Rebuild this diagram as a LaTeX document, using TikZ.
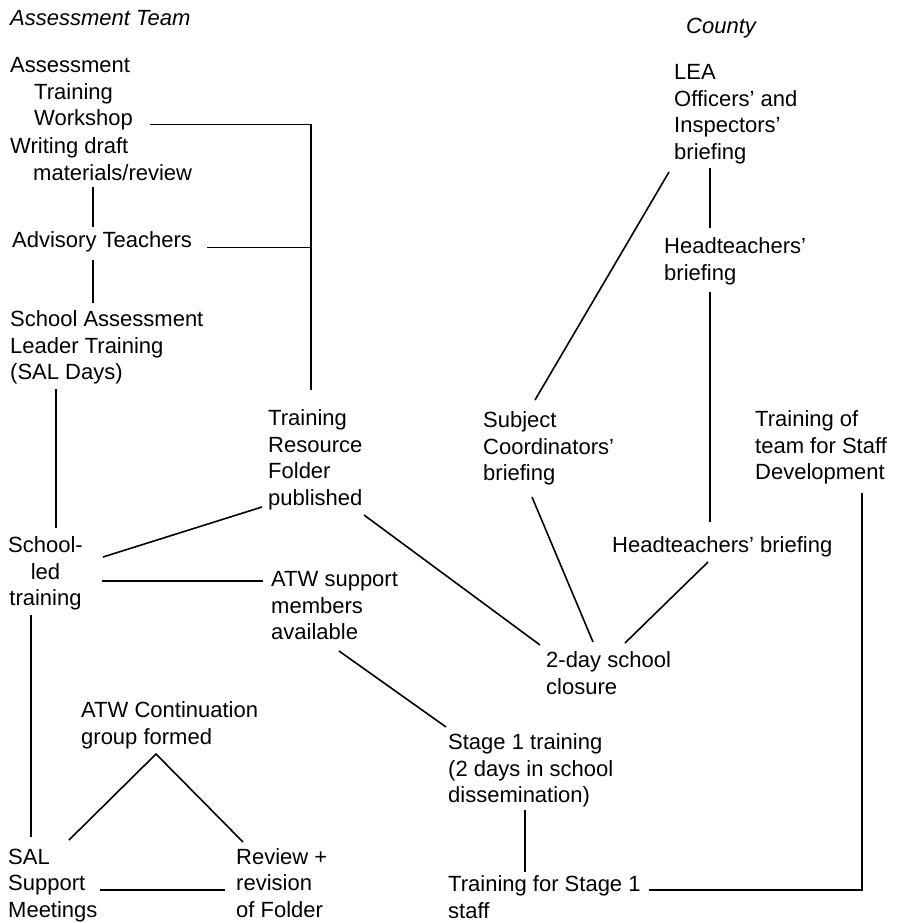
\documentclass[tikz,border=0pt]{standalone}
\usepackage{fontspec}
\setmainfont{Liberation Sans}
% fixes the height of the first line so every block's top sits 18.9pt above its first baseline
\newcommand\topline{\rule{0pt}{18.9pt}}
\begin{document}
\begin{tikzpicture}[x=1pt,y=-1pt,
  txt/.style={anchor=north west, inner sep=0pt, align=left,
    font=\fontsize{22}{26.5}\selectfont},
  ctxt/.style={txt, align=center},
  head/.style={txt, font=\fontsize{22}{26.5}\selectfont\itshape},
  link/.style={line width=1.6pt, line cap=butt, line join=miter}]
\useasboundingbox[fill=white] (0,0) rectangle (898,923);

% column headings
\node[head] (hteam)   at (10,6)   {\topline Assessment Team};
\node[head] (hcounty) at (686,14) {\topline County};

% Assessment Team activities
\node[txt] (wks) at (10,53.6)  {\topline Assessment\\\hspace*{24pt}Training\\\hspace*{24pt}Workshop};
\node[txt] (wdm) at (10,134.6) {\topline Writing draft\\\hspace*{23pt}materials/review};
\node[txt] (adv) at (12,228.6) {\topline Advisory Teachers};
\node[txt] (sal) at (10,307.6) {\topline School Assessment\\Leader Training\\(SAL Days)};
\node[ctxt] (sch) at (8,533.6) {\topline School-\\led\\training};
\node[txt] (trf) at (268,406.6) {\topline Training\\Resource\\Folder\\published};
\node[txt] (atw) at (271,567.6) {\topline ATW support\\members\\available};
\node[txt] (cont) at (81,698.6) {\topline ATW Continuation\\group formed};
\node[txt] (salm) at (8,845.1) {\topline SAL\\Support\\Meetings};
\node[txt] (rev) at (236,845.1) {\topline Review +\\revision\\of Folder};

% County activities
\node[txt] (lea)  at (674,60.6)  {\topline LEA\\Officers’ and\\Inspectors’\\briefing};
\node[txt] (hb1)  at (664,234.6) {\topline Headteachers’\\briefing};
\node[txt] (subj) at (483,408.6) {\topline Subject\\Coordinators’\\briefing};
\node[txt] (tts)  at (755,407.6) {\topline Training of\\team for Staff\\Development};
\node[txt] (hb2)  at (612,533.6) {\topline Headteachers’ briefing};
\node[txt] (clo)  at (546,648.6) {\topline 2-day school\\closure};
\node[txt] (st1)  at (448,730.6) {\topline Stage 1 training\\(2 days in school\\dissemination)};
\node[txt] (tfs)  at (448,872.6) {\topline Training for Stage 1\\staff};

% bracket feeding the resource folder
\draw[link] ([shift={(140,70.9)}]wks.north west) -- ([shift={(43,-282.1)}]trf.north west)
  -- ([shift={(43,-16.6)}]trf.north west);
\draw[link] ([shift={(195,18.9)}]adv.north west) -- ([shift={(43,-159.1)}]trf.north west);

% left column chain
\draw[link] ([shift={(83,52.4)}]wdm.north west) -- ([shift={(81,-1.6)}]adv.north west);
\draw[link] ([shift={(81,31.4)}]adv.north west) -- ([shift={(83,-4.6)}]sal.north west);
\draw[link] ([shift={(46,81.4)}]sal.north west) -- ([shift={(48,-5.6)}]sch.north west);
\draw[link] ([shift={(95,23.4)}]sch.north west) -- ([shift={(-6,100.4)}]trf.north west);
\draw[link] ([shift={(94,47.4)}]sch.north west) -- ([shift={(-8,13.4)}]atw.north west);
\draw[link] ([shift={(23,81.4)}]sch.north west) -- ([shift={(23,-8.1)}]salm.north west);
\draw[link] ([shift={(61,-5.1)}]salm.north west) -- ([shift={(75,55.4)}]cont.north west)
  -- ([shift={(7,-3.1)}]rev.north west);
\draw[link] ([shift={(92,44.9)}]salm.north west) -- ([shift={(-11,44.9)}]rev.north west);

% middle links
\draw[link] ([shift={(96,108.4)}]trf.north west) -- ([shift={(-6,-3.6)}]clo.north west);
\draw[link] ([shift={(68,83.4)}]atw.north west) -- ([shift={(-2,-3.6)}]st1.north west);
\draw[link] ([shift={(77,79.4)}]st1.north west) -- ([shift={(77,-0.6)}]tfs.north west);

% County links
\draw[link] ([shift={(-5,111.4)}]lea.north west) -- ([shift={(52,-8.6)}]subj.north west);
\draw[link] ([shift={(36,107.4)}]lea.north west) -- ([shift={(46,-6.6)}]hb1.north west);
\draw[link] ([shift={(46,57.4)}]hb1.north west) -- ([shift={(98,-11.6)}]hb2.north west);
\draw[link] ([shift={(49,88.4)}]subj.north west) -- ([shift={(47,-6.6)}]clo.north west);
\draw[link] ([shift={(96,28.4)}]hb2.north west) -- ([shift={(79,-5.6)}]clo.north west);
\draw[link] ([shift={(107,85.4)}]tts.north west) -- ([shift={(414,17.4)}]tfs.north west)
  -- ([shift={(201,17.4)}]tfs.north west);
\end{tikzpicture}
\end{document}
